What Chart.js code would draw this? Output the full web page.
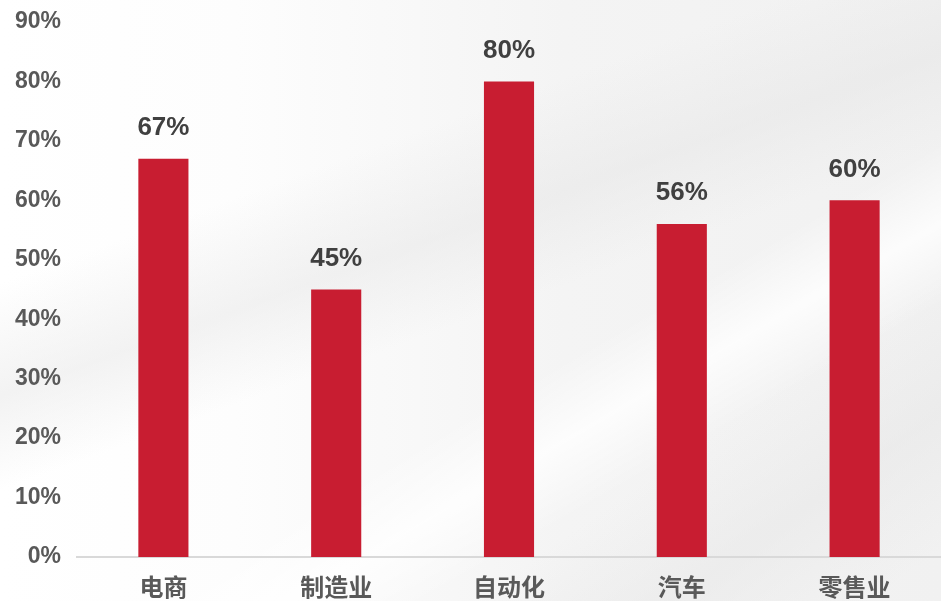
<!DOCTYPE html>
<html lang="zh">
<head>
  <meta charset="UTF-8" />
  <title>行业占比</title>
  <script src="https://cdn.jsdelivr.net/npm/chart.js"></script>
  <style>
    html, body { margin: 0; padding: 0; }
    body {
      width: 941px; height: 601px; overflow: hidden;
      background:
        linear-gradient(160deg, rgba(255,255,255,0) 30%, rgba(228,228,228,0.45) 42%, rgba(255,255,255,0) 52%),
        linear-gradient(150deg, rgba(255,255,255,0) 60%, rgba(255,255,255,0.8) 67%, rgba(255,255,255,0) 74%),
        linear-gradient(145deg, rgba(255,255,255,0) 74%, rgba(230,230,230,0.5) 85%, rgba(255,255,255,0) 96%),
        linear-gradient(90deg, #ffffff 0%, #fdfdfd 25%, #f4f4f4 60%, #f1f1f1 100%);
    }
    #wrap { position: relative; width: 941px; height: 601px; }
  </style>
</head>
<body>
  <div id="wrap"><canvas id="chart"></canvas></div>

  <script>
    const categories = ['电商', '制造业', '自动化', '汽车', '零售业'];
    const shares = [67, 45, 80, 56, 60];
    const yTicks = [0, 10, 20, 30, 40, 50, 60, 70, 80, 90];

    const FONT = '"Liberation Sans", Arial, "Noto Sans CJK SC", sans-serif';

    // value labels above each bar
    const barLabels = {
      id: 'barLabels',
      afterDatasetsDraw(chart) {
        const ctx = chart.ctx;
        const meta = chart.getDatasetMeta(0);
        ctx.save();
        ctx.font = 'bold 26px ' + FONT;
        ctx.fillStyle = '#404040';
        ctx.textAlign = 'center';
        ctx.textBaseline = 'middle';
        meta.data.forEach((bar, i) => {
          ctx.fillText(shares[i] + '%', bar.x, bar.y - 31);
        });
        ctx.restore();
      }
    };

    new Chart(document.getElementById('chart'), {
      type: 'bar',
      data: {
        labels: categories,
        datasets: [{
          data: shares,
          backgroundColor: '#c81d31',
          categoryPercentage: 1,
          barPercentage: 0.29
        }]
      },
      options: {
        responsive: true,
        maintainAspectRatio: false,
        animation: false,
        layout: { padding: { top: 22, right: 0, left: 0, bottom: 0 } },
        plugins: { legend: { display: false }, tooltip: { enabled: false } },
        scales: {
          x: {
            grid: { display: false, drawTicks: false },
            border: { display: true, color: '#d9d9d9', width: 2 },
            ticks: {
              color: '#595959',
              font: { family: FONT, size: 24, weight: 'bold' },
              padding: 18,
              maxRotation: 0
            },
            afterFit(scale) { scale.height = 44; }
          },
          y: {
            min: 0,
            max: 90,
            grid: { display: false, drawTicks: false },
            border: { display: false },
            afterBuildTicks(scale) { scale.ticks = yTicks.map(v => ({ value: v })); },
            ticks: {
              color: '#595959',
              font: { family: FONT, size: 23, weight: 'bold' },
              padding: 16,
              callback: v => v + '%'
            },
            afterFit(scale) {
              scale.width = 77;
              scale.paddingTop = 0;
              scale.paddingBottom = 0;
            }
          }
        }
      },
      plugins: [barLabels]
    });
  </script>
</body>
</html>
